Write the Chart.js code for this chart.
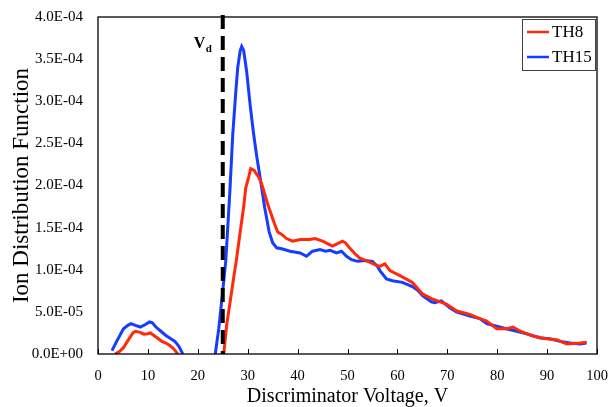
<!DOCTYPE html>
<html lang="en">
<head>
    <meta charset="UTF-8">
    <title>Ion Distribution Function vs Discriminator Voltage</title>
    <script src="https://cdn.jsdelivr.net/npm/chart.js"></script>
    <style>
        body {
            margin: 0;
            padding: 0;
            background-color: white;
        }
        canvas {
            display: block;
        }
    </style>
</head>
<body>
    <canvas id="idfChart" width="608" height="407"></canvas>

    <script>
        // Data
        const seriesNames = ['TH8', 'TH15'];
        const vdVoltage = 25;

        // TH8 (red): low-energy bump, then main peak
        const th8Volts = [
            3.4, 4.3, 5.1, 6.2, 7.0, 7.5, 8.3, 9.2, 10.0, 10.5, 11.2, 11.9, 12.8, 13.6, 14.4, 15.2, 16.0,
            null,
            25.2, 25.8, 26.5, 27.3, 27.7, 28.5, 29.2, 29.6, 30.2, 30.6, 31.3, 31.6, 32.2, 32.8, 34.0, 35.4,
            36.0, 36.8, 37.8, 39.0, 40.5, 42.4, 43.5, 45.0, 46.0, 47.0, 48.0, 49.0, 49.6, 50.4, 51.5, 52.4,
            54.1, 55.5, 56.5, 57.5, 58.5, 60.5, 63.0, 65.1, 67.1, 69.9, 71.9, 74.5, 76.5, 77.9, 79.9, 81.9,
            83.2, 84.6, 87.3, 89.9, 91.9, 93.9, 96.6, 97.9
        ];
        const th8Values = [
            0, 0.3e-5, 0.75e-5, 1.8e-5, 2.5e-5, 2.7e-5, 2.6e-5, 2.35e-5, 2.4e-5, 2.5e-5, 2.2e-5, 1.9e-5, 1.5e-5, 1.3e-5, 1.0e-5, 0.6e-5, 0,
            null,
            0, 0.35e-4, 0.63e-4, 0.95e-4, 1.1e-4, 1.45e-4, 1.75e-4, 1.97e-4, 2.1e-4, 2.2e-4, 2.18e-4, 2.15e-4, 2.1e-4, 2.02e-4, 1.78e-4, 1.54e-4,
            1.45e-4, 1.42e-4, 1.37e-4, 1.34e-4, 1.36e-4, 1.36e-4, 1.37e-4, 1.34e-4, 1.31e-4, 1.28e-4, 1.31e-4, 1.34e-4, 1.32e-4, 1.26e-4, 1.19e-4, 1.14e-4,
            1.1e-4, 1.06e-4, 1.04e-4, 1.07e-4, 0.99e-4, 0.93e-4, 0.85e-4, 0.71e-4, 0.65e-4, 0.59e-4, 0.51e-4, 0.47e-4, 0.42e-4, 0.39e-4, 0.30e-4, 0.30e-4,
            0.32e-4, 0.27e-4, 0.21e-4, 0.18e-4, 0.17e-4, 0.12e-4, 0.13e-4, 0.14e-4
        ];

        // TH15 (blue)
        const th15Volts = [
            2.8, 4.0, 5.1, 6.0, 6.6, 7.5, 8.5, 9.5, 10.3, 10.9, 11.6, 12.6, 13.6, 14.6, 15.4, 16.2, 17.0,
            null,
            23.5, 24.2, 25.0, 25.6, 26.4, 27.0, 27.6, 28.0, 28.5, 28.8, 29.2, 29.8, 30.5, 31.1, 31.8, 32.5,
            33.4, 34.3, 35.0, 35.8, 36.8, 38.5, 40.5, 41.8, 43.0, 44.5, 45.6, 46.5, 47.8, 48.8, 49.8, 50.8,
            52.0, 53.5, 55.0, 56.0, 56.5, 57.8, 59.0, 61.0, 63.0, 64.0, 65.1, 66.8, 67.5, 68.8, 70.5, 71.8,
            74.5, 76.5, 77.9, 79.9, 81.8, 83.9, 85.9, 88.6, 90.5, 92.6, 94.6, 96.6, 97.9
        ];
        const th15Values = [
            0.4e-5, 1.8e-5, 3.0e-5, 3.4e-5, 3.6e-5, 3.4e-5, 3.2e-5, 3.5e-5, 3.8e-5, 3.7e-5, 3.2e-5, 2.7e-5, 2.2e-5, 1.8e-5, 1.5e-5, 0.9e-5, 0,
            null,
            0, 0.3e-4, 0.75e-4, 1.1e-4, 1.9e-4, 2.6e-4, 3.1e-4, 3.4e-4, 3.6e-4, 3.65e-4, 3.6e-4, 3.35e-4, 2.95e-4, 2.65e-4, 2.35e-4, 2.09e-4,
            1.74e-4, 1.45e-4, 1.32e-4, 1.26e-4, 1.25e-4, 1.22e-4, 1.2e-4, 1.16e-4, 1.22e-4, 1.24e-4, 1.22e-4, 1.23e-4, 1.2e-4, 1.22e-4, 1.16e-4, 1.12e-4,
            1.1e-4, 1.11e-4, 1.1e-4, 1.04e-4, 0.99e-4, 0.89e-4, 0.87e-4, 0.85e-4, 0.8e-4, 0.76e-4, 0.69e-4, 0.62e-4, 0.61e-4, 0.63e-4, 0.55e-4, 0.5e-4,
            0.45e-4, 0.42e-4, 0.36e-4, 0.33e-4, 0.30e-4, 0.27e-4, 0.24e-4, 0.19e-4, 0.18e-4, 0.15e-4, 0.13e-4, 0.12e-4, 0.13e-4
        ];

        const xTickLabels = ['0', '10', '20', '30', '40', '50', '60', '70', '80', '90', '100'];
        const yTickLabels = ['0.0E+00', '5.0E-05', '1.0E-04', '1.5E-04', '2.0E-04', '2.5E-04', '3.0E-04', '3.5E-04', '4.0E-04'];

        const RED = 'rgb(255, 42, 10)';
        const BLUE = 'rgb(22, 60, 255)';
        const SERIF = "'Liberation Serif', 'Times New Roman', Times, serif";

        function toPoints(xs, ys) {
            return xs.map((x, i) => ({ x: x === null ? NaN : x, y: ys[i] }));
        }

        // frame, inward x ticks, Vd line and legend
        const extrasPlugin = {
            id: 'extras',
            afterDatasetsDraw(chart) {
                const ctx = chart.ctx;
                const area = chart.chartArea;
                const xs = chart.scales.x;

                ctx.save();
                // dashed discriminator voltage
                const vx = xs.getPixelForValue(vdVoltage);
                ctx.strokeStyle = 'black';
                ctx.lineWidth = 4;
                ctx.setLineDash([14, 7]);
                ctx.beginPath();
                ctx.moveTo(vx, area.top - 2);
                ctx.lineTo(vx, area.bottom);
                ctx.stroke();
                ctx.setLineDash([]);

                // Vd label
                ctx.fillStyle = 'black';
                ctx.textBaseline = 'alphabetic';
                ctx.textAlign = 'left';
                ctx.font = 'bold 16px ' + SERIF;
                ctx.fillText('V', vx - 29, 48);
                ctx.font = 'bold 11px ' + SERIF;
                ctx.fillText('d', vx - 17, 52);

                // plot frame
                ctx.strokeStyle = 'black';
                ctx.lineWidth = 1.3;
                ctx.strokeRect(area.left, area.top, area.right - area.left, area.bottom - area.top);

                // inward tick marks on x axis
                ctx.lineWidth = 1;
                xs.ticks.forEach(t => {
                    const px = Math.round(xs.getPixelForValue(t.value)) + 0.5;
                    ctx.beginPath();
                    ctx.moveTo(px, area.bottom);
                    ctx.lineTo(px, area.bottom - 5);
                    ctx.stroke();
                });

                // legend box
                const lx = 522, ly = 19, lw = 73, lh = 51;
                ctx.fillStyle = 'white';
                ctx.fillRect(lx, ly, lw, lh);
                ctx.strokeStyle = '#404040';
                ctx.lineWidth = 1;
                ctx.strokeRect(lx + 0.5, ly + 0.5, lw, lh);
                [RED, BLUE].forEach((c, i) => {
                    const yy = ly + 13 + i * 25;
                    ctx.strokeStyle = c;
                    ctx.lineWidth = 2.5;
                    ctx.beginPath();
                    ctx.moveTo(lx + 5, yy);
                    ctx.lineTo(lx + 27, yy);
                    ctx.stroke();
                    ctx.fillStyle = 'black';
                    ctx.font = '17px ' + SERIF;
                    ctx.textBaseline = 'middle';
                    ctx.fillText(seriesNames[i], lx + 30, yy + 1);
                });
                ctx.restore();
            }
        };

        new Chart(document.getElementById('idfChart').getContext('2d'), {
            type: 'scatter',
            data: {
                datasets: [
                    {
                        label: seriesNames[0],
                        data: toPoints(th8Volts, th8Values),
                        showLine: true,
                        borderColor: RED,
                        borderWidth: 3,
                        pointRadius: 0,
                        tension: 0,
                        spanGaps: false
                    },
                    {
                        label: seriesNames[1],
                        data: toPoints(th15Volts, th15Values),
                        showLine: true,
                        borderColor: BLUE,
                        borderWidth: 3,
                        pointRadius: 0,
                        tension: 0,
                        spanGaps: false
                    }
                ]
            },
            options: {
                responsive: false,
                devicePixelRatio: 1,
                animation: false,
                layout: {
                    padding: { top: 17, right: 11, left: 0, bottom: 0 }
                },
                scales: {
                    x: {
                        type: 'linear',
                        min: 0,
                        max: 100,
                        afterFit: s => { s.height = 53; s.paddingLeft = 0; s.paddingRight = 0; },
                        grid: { display: false, drawTicks: false },
                        border: { display: false },
                        ticks: {
                            stepSize: 10,
                            padding: 13,
                            maxRotation: 0,
                            color: 'black',
                            font: { family: SERIF, size: 14.5 },
                            callback: (v, i) => xTickLabels[i]
                        },
                        title: {
                            display: true,
                            text: 'Discriminator Voltage, V',
                            color: 'black',
                            font: { family: SERIF, size: 20 },
                            padding: { top: 0, bottom: -2 }
                        }
                    },
                    y: {
                        min: 0,
                        max: 4e-4,
                        afterFit: s => { s.width = 98; s.paddingTop = 0; s.paddingBottom = 0; },
                        grid: { display: false, drawTicks: false },
                        border: { display: false },
                        ticks: {
                            stepSize: 5e-5,
                            padding: 15,
                            color: 'black',
                            font: { family: SERIF, size: 15 },
                            callback: (v, i) => yTickLabels[i]
                        },
                        title: {
                            display: true,
                            text: 'Ion Distribution Function',
                            color: 'black',
                            font: { family: SERIF, size: 23 },
                            padding: { top: 8, bottom: 0 }
                        }
                    }
                },
                plugins: {
                    legend: { display: false },
                    tooltip: { enabled: false }
                }
            },
            plugins: [extrasPlugin]
        });
    </script>
</body>
</html>
